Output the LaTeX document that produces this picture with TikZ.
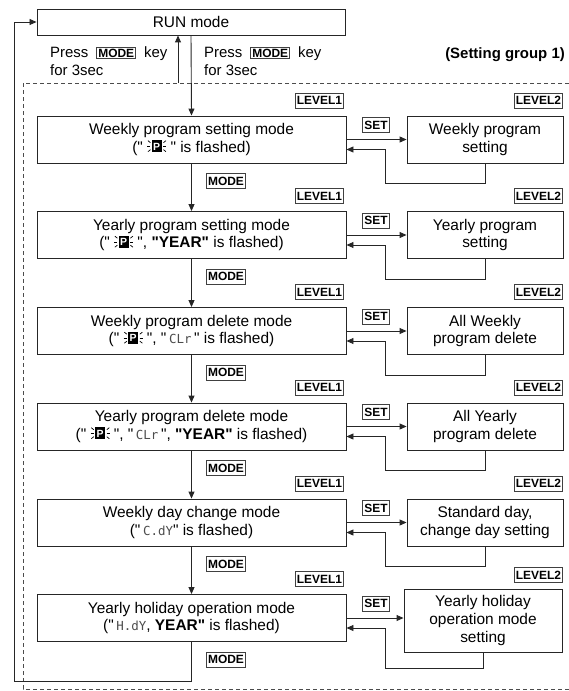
\documentclass[tikz,border=0pt]{standalone}
\usepackage{fontspec}
\usepackage{graphicx}
\setmainfont{Liberation Sans}[Ligatures=TeXOff]
\newfontfamily\segfont{DejaVu Sans Mono}
\usetikzlibrary{arrows.meta,calc}

\newcommand{\rayrule}{\rule{3.2bp}{0.7bp}}
\newcommand{\flashP}{{\setlength{\unitlength}{1bp}\begin{picture}(19,12)(0,-1)
\put(0.5,10.5){\rotatebox{-39}{\rayrule}}
\put(0,4.7){\rule{3bp}{0.7bp}}
\put(0.5,-0.5){\rotatebox{39}{\rayrule}}
\put(4.5,-1){\rule{10bp}{12bp}}
\put(9.5,5){\makebox(0,0){\color{white}\bfseries\fontsize{10.5}{10.5}\selectfont P}}
\put(16,8.5){\rotatebox{39}{\rayrule}}
\put(16,4.7){\rule{3bp}{0.7bp}}
\put(16,1.5){\rotatebox{-39}{\rayrule}}
\end{picture}}}
\newcommand{\seg}[1]{{\segfont\fontsize{12.5}{12.5}\selectfont\color{black!70}#1}}
\newcommand{\keytag}[1]{{\setlength{\fboxsep}{1pt}\setlength{\fboxrule}{0.9pt}\fcolorbox{black!75}{white}{\bfseries\fontsize{12}{12}\selectfont #1}}}

\tikzset{
 box/.style={draw=black!85, line width=0.9bp, inner sep=2bp, align=center, font=\fontsize{15.5}{18}\selectfont},
 mainbox/.style={box, minimum width=309bp, minimum height=47bp},
 rbox/.style={box, minimum width=156bp, minimum height=47bp},
 tag/.style={draw=black!75, line width=0.9bp, fill=white, inner xsep=1.5bp, inner ysep=0bp, minimum height=15bp, font=\bfseries\fontsize{12}{12}\selectfont},
 arr/.style={-{Triangle[length=7bp,width=6bp]}, line width=0.9bp, draw=black!85},
 dashline/.style={line width=0.8bp, draw=black!70, dash pattern=on 4bp off 3bp},
 plain/.style={inner sep=0pt, font=\fontsize{15}{18}\selectfont}
}

\begin{document}
\begin{tikzpicture}[x=1bp,y=-1bp]
\useasboundingbox (0,0) rectangle (569,691);

% frame of setting group
\draw[dashline] (569,83) -- (23,83) -- (23,689) -- (569,689);

% RUN mode
\node[box, minimum width=308bp, minimum height=26bp] (run) at (191,22) {RUN mode};
\node[plain, anchor=west, align=left] (pressL) at (50,61) {Press\hspace{8bp}\keytag{MODE}\hspace{8bp}key\\for 3sec};
\node[plain, anchor=west, align=left] (pressR) at (204,61) {Press\hspace{8bp}\keytag{MODE}\hspace{8bp}key\\for 3sec};
\node[plain, anchor=east, font=\bfseries\fontsize{15}{18}\selectfont] (sg) at (565,55) {(Setting group 1)};

% level-1 boxes
\node[mainbox] (m0) at (191.5,139.5) {Weekly program setting mode\\(" \flashP\ " is flashed)};
\node[mainbox] (m1) at (191.5,235) {Yearly program setting mode\\(" \flashP\ ", \textbf{"YEAR"} is flashed)};
\node[mainbox] (m2) at (191.5,331) {Weekly program delete mode\\(" \flashP\ ", "\,\seg{CLr}\," is flashed)};
\node[mainbox] (m3) at (191.5,426.5) {Yearly program delete mode\\(" \flashP\ ", "\,\seg{CLr}\,", \textbf{"YEAR"} is flashed)};
\node[mainbox] (m4) at (191.5,522.5) {Weekly day change mode\\("\,\seg{C.dY}" is flashed)};
\node[mainbox] (m5) at (191.5,618) {Yearly holiday operation mode\\("\,\seg{H.dY}, \textbf{YEAR"} is flashed)};

% level-2 boxes
\node[rbox] (r0) at (485,139.5) {Weekly program\\setting};
\node[rbox] (r1) at (485,235) {Yearly program\\setting};
\node[rbox] (r2) at (485,331) {All Weekly\\program delete};
\node[rbox] (r3) at (485,426.5) {All Yearly\\program delete};
\node[rbox] (r4) at (485,522.5) {Standard day,\\change day setting};
\node[box, minimum width=158bp, minimum height=63bp] (r5) at (483,620.5) {Yearly holiday\\operation mode\\setting};

% tags
\foreach \i/\t in {0/116,1/211.5,2/307.5,3/403,4/499,5/594.5}{
  \node[tag, anchor=east] (la\i) at (344,\t-15.5) {LEVEL1};
  \node[tag] (set\i) at (376,\t+9) {SET};
  \node[tag] (mode\i) at (226,\t+65) {MODE};
}
\foreach \i/\t in {0/116,1/211.5,2/307.5,3/403,4/499}{
  \node[tag, anchor=east] (lb\i) at (563,\t-15.5) {LEVEL2};
}
\node[tag, anchor=east] (lb5) at (563,575) {LEVEL2};

% RUN connectors
\draw[arr] (run.south) -- (m0.north);
\coordinate (upstart) at (178,83);
\draw[arr] (upstart) -- (upstart |- run.south);

% vertical MODE arrows
\foreach \i/\j in {0/1,1/2,2/3,3/4,4/5}{
  \draw[arr] (m\i.south) -- (m\j.north);
}

% SET arrows and returns
\foreach \i in {0,...,5}{
  \draw[arr] (m\i.east) -- (m\i.east -| r\i.west);
}
\foreach \i in {0,...,4}{
  \draw[arr] (r\i.south) -- ++(0,20) -| ($(m\i.east)+(39,10)$) -- ($(m\i.east)+(0,10)$);
}
\draw[arr] (r5.south) -- ++(0,16) -| ($(m5.east)+(39,10)$) -- ($(m5.east)+(0,10)$);

% loop back to RUN mode
\draw[arr] (m5.south) -- ++(0,39) -| ($(run.west)+(-22,0)$) -- (run.west);
\end{tikzpicture}
\end{document}
